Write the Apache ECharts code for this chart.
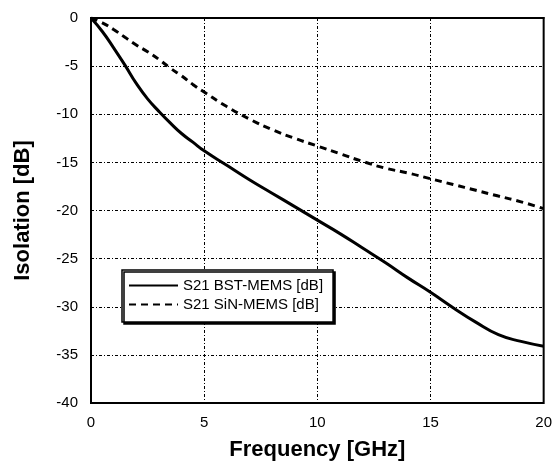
<!DOCTYPE html>
<html>
<head>
<meta charset="utf-8">
<script src="https://cdn.jsdelivr.net/npm/echarts@6/dist/echarts.min.js"></script>
<style>
  html, body { margin: 0; padding: 0; background: #fff; }
  #chart { width: 555px; height: 466px; }
</style>
</head>
<body>
<div id="chart"></div>
<script>
// frequency points in GHz
const freq = [ 0, 0.5, 1, 1.5, 2, 2.5, 3, 3.5, 4, 4.5, 5, 6, 7, 8, 9, 10, 11, 12, 13, 14, 15, 16, 17, 18, 19, 20 ];
// S21 of the BST-MEMS switch
const bstMems = [ 0, -1.4, -3.1, -4.9, -6.8, -8.4, -9.7, -10.9, -12.0, -12.9, -13.8, -15.3, -16.8, -18.2, -19.6, -21.0, -22.4, -23.9, -25.4, -27.0, -28.5, -30.1, -31.6, -32.9, -33.6, -34.1 ];
// S21 of the SiN-MEMS switch
const sinMems = [ 0, -0.5, -1.2, -2.0, -2.8, -3.5, -4.3, -5.2, -6.0, -6.9, -7.7, -9.2, -10.5, -11.6, -12.5, -13.3, -14.1, -14.9, -15.6, -16.1, -16.7, -17.3, -17.9, -18.5, -19.1, -19.8 ];

const font = "'Liberation Sans', Arial, sans-serif";
const gridLine = { color: '#000', width: 1, type: [ 3, 2, 1, 2 ] };

( function ()
{
  let myChart = echarts.init( document.getElementById( 'chart' ) );
  let option = {
    animation: false,
    backgroundColor: '#fff',
    grid: {
      left: 91, right: 9, top: 18, bottom: 61,
      show: true, borderColor: '#000', borderWidth: 2
    },
    legend: {
      orient: 'vertical',
      left: 122, top: 270,
      padding: [ 8, 10, 10, 6 ],
      itemGap: 4,
      itemWidth: 49,
      itemHeight: 14,
      backgroundColor: '#fff',
      borderColor: '#000',
      borderWidth: 1.5,
      shadowColor: '#000',
      shadowOffsetX: 2,
      shadowOffsetY: 2,
      itemStyle: { color: 'rgba(0,0,0,0)', borderWidth: 0 },
      lineStyle: { width: 2 },
      textStyle: { fontFamily: font, fontSize: 15, color: '#000' },
      data: [ 'S21 BST-MEMS [dB]', 'S21 SiN-MEMS [dB]' ]
    },
    xAxis: {
      type: 'value',
      min: 0, max: 20, interval: 5,
      name: 'Frequency [GHz]',
      nameLocation: 'middle',
      nameGap: 36,
      nameTextStyle: { fontFamily: font, fontSize: 22, fontWeight: 'bold', color: '#000' },
      axisLine: { lineStyle: { color: '#000', width: 2 } },
      axisTick: { show: false },
      axisLabel: { fontFamily: font, fontSize: 15, color: '#000', margin: 12 },
      splitLine: { show: true, lineStyle: gridLine }
    },
    yAxis: {
      type: 'value',
      min: -40, max: 0, interval: 5,
      name: 'Isolation [dB]',
      nameLocation: 'middle',
      nameGap: 57,
      nameTextStyle: { fontFamily: font, fontSize: 22, fontWeight: 'bold', color: '#000' },
      axisLine: { show: true, lineStyle: { color: '#000', width: 2 } },
      axisTick: { show: false },
      axisLabel: { fontFamily: font, fontSize: 15, color: '#000', margin: 13 },
      splitLine: { show: true, lineStyle: gridLine }
    },
    series: [
      {
        name: 'S21 BST-MEMS [dB]',
        type: 'line',
        smooth: true,
        symbol: 'none',
        lineStyle: { color: '#000', width: 3 },
        itemStyle: { color: '#000' },
        data: freq.map( ( f, i ) => [ f, bstMems[ i ] ] )
      },
      {
        name: 'S21 SiN-MEMS [dB]',
        type: 'line',
        smooth: true,
        symbol: 'none',
        lineStyle: { color: '#000', width: 3, type: [ 7, 5 ] },
        itemStyle: { color: '#000' },
        data: freq.map( ( f, i ) => [ f, sinMems[ i ] ] )
      }
    ]
  };
  myChart.setOption( option );
} )();
</script>
</body>
</html>
